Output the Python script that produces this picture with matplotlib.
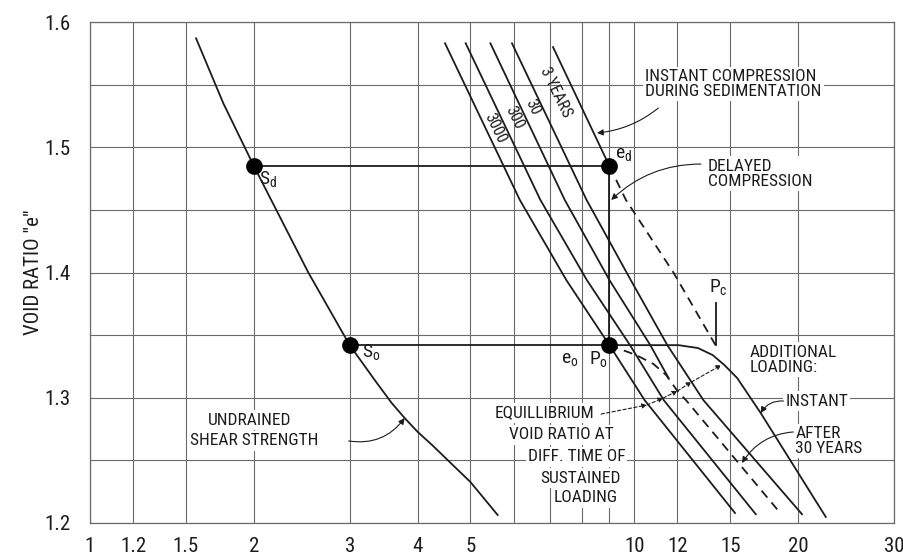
import matplotlib
matplotlib.use("Agg")
import matplotlib.pyplot as plt
from matplotlib import font_manager
from matplotlib.ticker import FixedLocator, FixedFormatter, NullFormatter

# ---------------------------------------------------------------- data
# consolidation pressure p (log scale) and void ratio e

# undrained shear strength curve
su_p = [1.566, 1.758, 2.0, 2.518, 3.0, 3.334, 3.583, 3.785, 4.0, 4.25, 5.0, 5.61]
su_e = [1.587, 1.535, 1.485, 1.400, 1.342, 1.3142, 1.2958, 1.2838, 1.2727,
        1.2623, 1.2327, 1.2064]

# lines of equal time of sustained loading
line_3000_p = [4.49, 6.16, 7.50, 9.0, 10.45, 15.31]
line_3000_e = [1.583, 1.458, 1.394, 1.342, 1.298, 1.208]
line_300_p = [4.90, 6.72, 8.18, 9.82, 11.33, 16.72]
line_300_e = [1.583, 1.458, 1.394, 1.342, 1.298, 1.207]
line_30_p = [5.44, 7.45, 9.0, 10.70, 11.55]
line_30_e = [1.583, 1.458, 1.394, 1.342, 1.316]
line_3yr_p = [5.96, 8.17, 9.85, 11.50, 13.40, 20.33]
line_3yr_e = [1.583, 1.458, 1.394, 1.342, 1.298, 1.207]

# instant compression during sedimentation (solid up to e_d, dashed to p_c)
sed_p = [7.09, 9.0]
sed_e = [1.580, 1.485]
sed_ext_p = [9.0, 9.65, 11.8, 14.1]
sed_ext_e = [1.485, 1.458, 1.400, 1.342]

# additional loading: instant response and state after 30 years
add_inst_p = [9.0, 12.05, 13.09, 13.93, 14.64, 15.45, 17.07, 22.48]
add_inst_e = [1.342, 1.342, 1.3397, 1.3341, 1.3261, 1.3158, 1.2878, 1.2048]
add_30_p = [9.0, 10.09, 10.84, 11.45, 12.0, 12.45, 18.54]
add_30_e = [1.342, 1.334, 1.327, 1.318, 1.3054, 1.298, 1.208]

# characteristic states
s_d = (2.0, 1.485)
s_o = (3.0, 1.342)
e_d = (9.0, 1.485)
p_o = (9.0, 1.342)
p_c = (14.1, 1.342)
p_c_top = 1.376

# equilibrium void ratio leader (crossings of the time lines)
eq_p = [8.69, 10.55, 11.30, 12.0, 12.74, 14.45]
eq_e = [1.287, 1.2942, 1.2998, 1.3054, 1.3126, 1.3261]

# axis ticks
x_ticks = [1, 1.2, 1.5, 2, 3, 4, 5, 10, 12, 15, 20, 30]
x_tick_labels = ["1", "1.2", "1.5", "2", "3", "4", "5", "10", "12", "15", "20", "30"]
x_minor = [6, 7, 8, 9]
y_ticks = [1.2, 1.3, 1.4, 1.5, 1.6]
y_tick_labels = ["1.2", "1.3", "1.4", "1.5", "1.6"]
y_minor = [1.25, 1.35, 1.45, 1.55]

# ---------------------------------------------------------------- style
available = {f.name for f in font_manager.fontManager.ttflist}
FONT = "DejaVu Sans"
for fam in ["Liberation Sans Narrow", "Roboto Condensed", "Open Sans Condensed", "Roboto"]:
    if fam in available:
        FONT = fam
        break
plt.rcParams["font.family"] = [FONT, "DejaVu Sans"]

INK = "#1c1c1c"
GRID = "#6a6a6a"
LW = 1.3
DASH = (0, (5, 3.5))
TXT = 12.5
BOX = dict(boxstyle="square,pad=0.12", fc="white", ec="none")

fig = plt.figure(figsize=(9.04, 5.55), dpi=100)
ax = fig.add_axes([90 / 904, 32 / 555, 804 / 904, 501 / 555])
ax.set_xscale("log")
ax.set_xlim(1, 30)
ax.set_ylim(1.2, 1.6)

ax.xaxis.set_major_locator(FixedLocator(x_ticks))
ax.xaxis.set_major_formatter(FixedFormatter(x_tick_labels))
ax.xaxis.set_minor_locator(FixedLocator(x_minor))
ax.xaxis.set_minor_formatter(NullFormatter())
ax.yaxis.set_major_locator(FixedLocator(y_ticks))
ax.yaxis.set_major_formatter(FixedFormatter(y_tick_labels))
ax.yaxis.set_minor_locator(FixedLocator(y_minor))
ax.tick_params(which="both", length=0, labelsize=15, colors=INK)
ax.tick_params(axis="x", pad=10)
ax.tick_params(axis="y", pad=14)
ax.grid(which="both", color=GRID, lw=0.8)
ax.set_axisbelow(True)
for s in ax.spines.values():
    s.set_color(GRID)
    s.set_linewidth(0.9)

ax.set_ylabel('VOID RATIO "e"', fontsize=15, color=INK)
ax.yaxis.set_label_coords(-0.058, 0.5)

# ---------------------------------------------------------------- curves
ax.plot(su_p, su_e, color=INK, lw=LW)
for lp, le in [(line_3000_p, line_3000_e), (line_300_p, line_300_e),
               (line_30_p, line_30_e), (line_3yr_p, line_3yr_e)]:
    ax.plot(lp, le, color=INK, lw=LW)
ax.plot(sed_p, sed_e, color=INK, lw=LW)
ax.plot(sed_ext_p, sed_ext_e, color=INK, lw=LW, ls=DASH)
ax.plot(add_inst_p, add_inst_e, color=INK, lw=LW)
ax.plot(add_30_p, add_30_e, color=INK, lw=LW, ls=DASH)

# construction lines between the states
ax.plot([s_d[0], e_d[0]], [s_d[1], e_d[1]], color=INK, lw=LW)
ax.plot([s_o[0], p_o[0]], [s_o[1], p_o[1]], color=INK, lw=LW)
ax.plot([e_d[0], p_o[0]], [e_d[1], p_o[1]], color=INK, lw=LW)
ax.plot([p_c[0], p_c[0]], [p_c[1], p_c_top], color=INK, lw=LW)

for pt in (s_d, s_o, e_d, p_o):
    ax.plot(*pt, "o", color="black", ms=11, zorder=5)

# ---------------------------------------------------------------- labels
def label(x, y, s, size=TXT, **kw):
    kw.setdefault("bbox", BOX)
    ax.text(x, y, s, fontsize=size, color=INK, zorder=1.5, **kw)

label(2.043, 1.474, r"S$_\mathregular{d}$", size=14, va="center", bbox=None)
label(3.155, 1.336, r"S$_\mathregular{o}$", size=14, va="center", bbox=None)
label(9.22, 1.494, r"e$_\mathregular{d}$", size=14, va="center", bbox=None)
label(7.34, 1.330, r"e$_\mathregular{o}$", size=14, va="center", bbox=None)
label(8.25, 1.330, r"P$_\mathregular{o}$", size=14, va="center", bbox=None)
label(14.27, 1.388, r"P$_\mathregular{c}$", size=14, ha="center", va="center", bbox=None)

for x, y, s in [(5.56, 1.5154, "3000"), (6.03, 1.5234, "300"),
                (6.51, 1.5321, "30"), (7.18, 1.5441, "3 YEARS")]:
    label(x, y, s, size=11.5, ha="center", va="center", rotation=-64, bbox=None)

label(10.48, 1.5505, "INSTANT COMPRESSION\nDURING SEDIMENTATION", va="center",
      linespacing=1.0)
label(13.64, 1.479, "DELAYED\nCOMPRESSION", va="center", linespacing=1.0)
label(16.31, 1.3305, "ADDITIONAL\nLOADING:", va="center", linespacing=1.0)
label(18.95, 1.2974, "INSTANT", va="center")
label(19.75, 1.2655, "AFTER\n30 YEARS", va="center", linespacing=1.0)
label(1.648, 1.2822, "UNDRAINED", va="center")
label(1.526, 1.2655, "SHEAR STRENGTH", va="center")

for x, y, s in [(6.85, 1.2878, "EQUILLIBRIUM"), (7.34, 1.2703, "VOID RATIO AT"),
                (7.83, 1.2527, "DIFF. TIME OF"), (7.97, 1.2359, "SUSTAINED"),
                (8.14, 1.2200, "LOADING")]:
    label(x, y, s, ha="center", va="center")

# ---------------------------------------------------------------- arrows
def pointer(start, end, rad):
    ax.annotate("", xy=end, xytext=start,
                arrowprops=dict(arrowstyle="-|>", color=INK, lw=0.8,
                                mutation_scale=9, shrinkA=0, shrinkB=0,
                                connectionstyle=f"arc3,rad={rad}"))

pointer((11.07, 1.5313), (8.54, 1.5114), -0.15)
pointer((13.25, 1.4866), (9.07, 1.4579), 0.2)
pointer((18.79, 1.2974), (17.07, 1.2878), 0.3)
pointer((19.59, 1.2727), (15.77, 1.2479), 0.25)
pointer((2.987, 1.2655), (3.785, 1.2838), 0.3)

for i in range(1, len(eq_p)):
    ax.annotate("", xy=(eq_p[i], eq_e[i]), xytext=(eq_p[i - 1], eq_e[i - 1]),
                arrowprops=dict(arrowstyle="-|>", color=INK, lw=0.8,
                                ls=(0, (3, 2)), mutation_scale=7,
                                shrinkA=0, shrinkB=0))

fig.savefig("out.png", dpi=100)
